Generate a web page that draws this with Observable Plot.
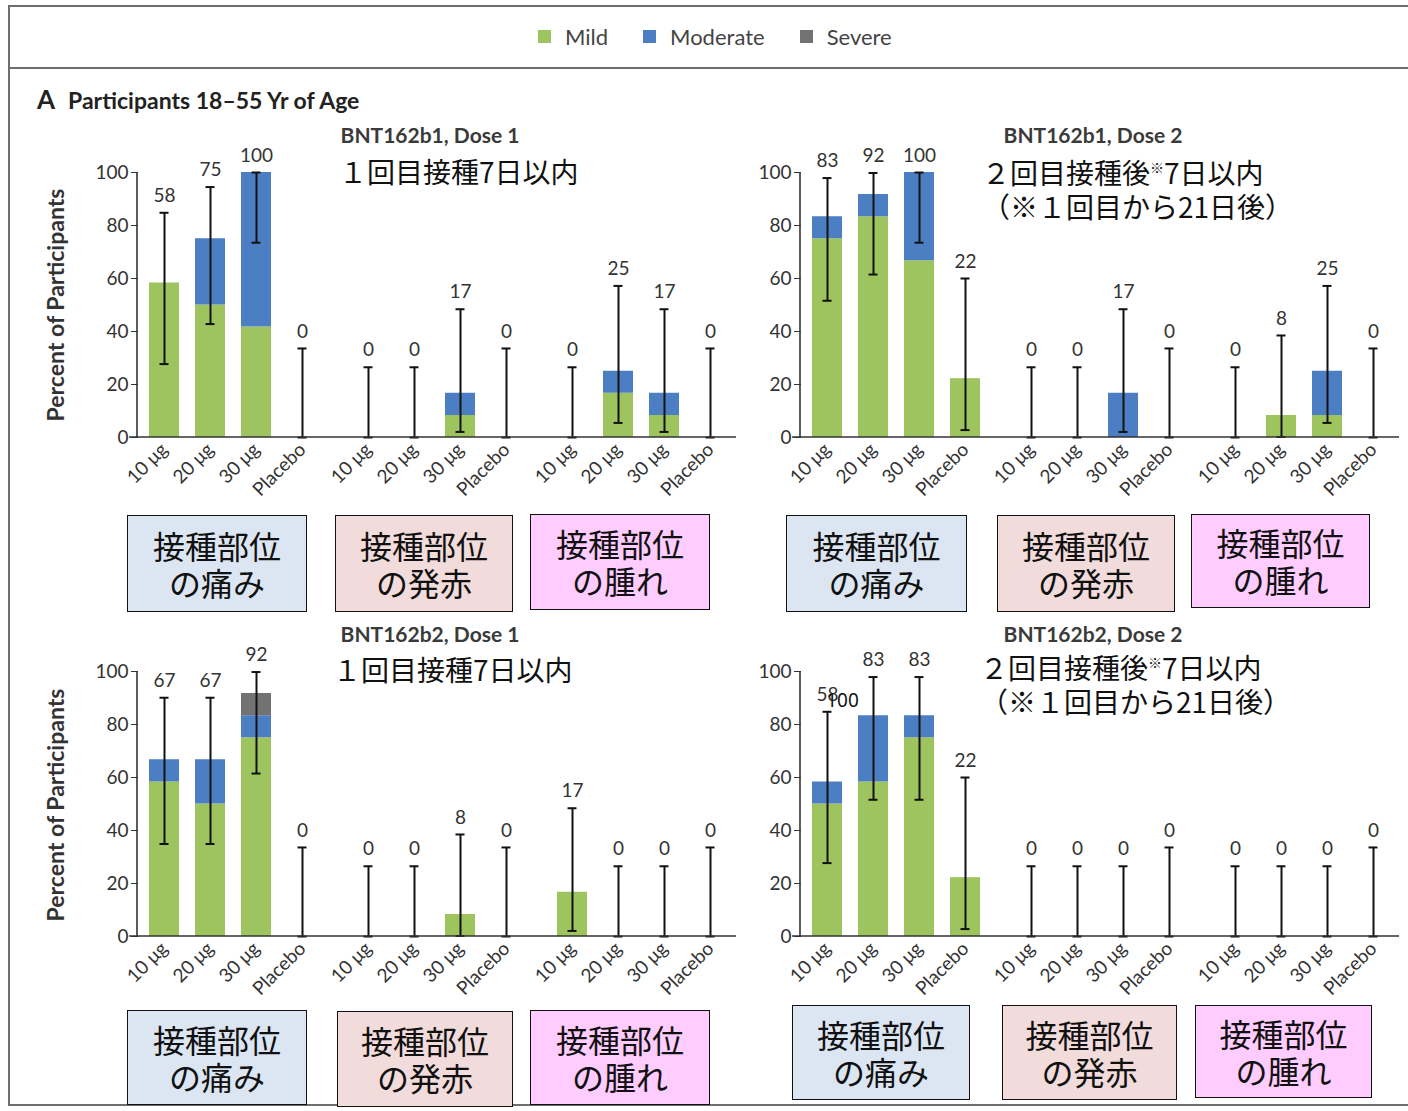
<!DOCTYPE html>
<html><head><meta charset="utf-8">
<script src="https://cdn.jsdelivr.net/npm/d3@7"></script>
<script src="https://cdn.jsdelivr.net/npm/@observablehq/plot@0.6"></script>
<style>
body{margin:0;background:#fff;}
#page{position:relative;width:1408px;height:1111px;overflow:hidden;background:#fff;
  font-family:Lato,"Liberation Sans",sans-serif;color:#333;}
.abs{position:absolute;}
.center{transform:translate(-50%,-50%);white-space:nowrap;}
.title{font-weight:bold;font-size:21px;color:#3a3a3a;}
.note{font-family:"Noto Sans CJK JP",sans-serif;font-size:28px;color:#111;white-space:nowrap;line-height:1;}
.note sup{font-size:14px;vertical-align:11px;line-height:0;}
.box{box-sizing:border-box;border:1.6px solid #111;display:flex;align-items:center;justify-content:center;text-align:center;
  font-family:"Noto Sans CJK JP",sans-serif;font-size:32px;line-height:1.15;color:#111;white-space:pre;}
.ylab{font-weight:bold;font-size:23px;color:#333;transform:translate(-50%,-50%) rotate(-90deg);white-space:nowrap;}
.leg{display:flex;align-items:center;font-size:22px;color:#444;white-space:nowrap;}
.sw{display:inline-block;width:13px;height:13px;margin-right:14px;}
</style></head><body><div id="page"></div>
<script>
// ---------- data ----------
const severities = ["Mild", "Moderate", "Severe"];
const severityColors = ["#9dc45e", "#4c7ec4", "#727272"];
const sites = ["pain", "redness", "swelling"];
const siteLabels = ["接種部位\nの痛み", "接種部位\nの発赤", "接種部位\nの腫れ"];
const siteColors = ["#dce6f2", "#f2dcdb", "#ffccff"];
const doses = ["10 μg", "20 μg", "30 μg", "Placebo"];
const yTicks = [0, 20, 40, 60, 80, 100];
const panelTitles = ["BNT162b1, Dose 1", "BNT162b1, Dose 2", "BNT162b2, Dose 1", "BNT162b2, Dose 2"];
const note1 = ["１回目接種7日以内"];
const note2 = ["２回目接種後<sup>※</sup>7日以内", "（※１回目から21日後）"];

// 12 entries each: pain (10,20,30,Placebo), redness (...), swelling (...)
const b1d1Mild     = [58.3, 50.0, 41.7, 0,   0, 0, 8.3, 0,   0, 16.7, 8.3, 0];
const b1d1Moderate = [0, 25.0, 58.3, 0,      0, 0, 8.4, 0,   0, 8.3, 8.4, 0];
const b1d1Severe   = [0, 0, 0, 0,            0, 0, 0, 0,     0, 0, 0, 0];
const b1d1Label    = [58, 75, 100, 0,        0, 0, 17, 0,    0, 25, 17, 0];
const b1d1Lo       = [27.7, 42.8, 73.5, 0,   0, 0, 2.1, 0,   0, 5.5, 2.1, 0];
const b1d1Hi       = [84.8, 94.5, 100, 33.6, 26.5, 26.5, 48.4, 33.6, 26.5, 57.2, 48.4, 33.6];

const b1d2Mild     = [75.0, 83.3, 66.7, 22.2, 0, 0, 0, 0,    0, 8.3, 8.3, 0];
const b1d2Moderate = [8.3, 8.4, 33.3, 0,      0, 0, 16.7, 0, 0, 0, 16.7, 0];
const b1d2Severe   = [0, 0, 0, 0,             0, 0, 0, 0,    0, 0, 0, 0];
const b1d2Label    = [83, 92, 100, 22,        0, 0, 17, 0,   0, 8, 25, 0];
const b1d2Lo       = [51.6, 61.5, 73.5, 2.8,  0, 0, 2.1, 0,  0, 0.2, 5.5, 0];
const b1d2Hi       = [97.9, 99.8, 100, 60.0,  26.5, 26.5, 48.4, 33.6, 26.5, 38.5, 57.2, 33.6];

const b2d1Mild     = [58.3, 50.0, 75.0, 0,    0, 0, 8.3, 0,  16.7, 0, 0, 0];
const b2d1Moderate = [8.4, 16.7, 8.3, 0,      0, 0, 0, 0,    0, 0, 0, 0];
const b2d1Severe   = [0, 0, 8.4, 0,           0, 0, 0, 0,    0, 0, 0, 0];
const b2d1Label    = [67, 67, 92, 0,          0, 0, 8, 0,    17, 0, 0, 0];
const b2d1Lo       = [34.9, 34.9, 61.5, 0,    0, 0, 0.2, 0,  2.1, 0, 0, 0];
const b2d1Hi       = [90.1, 90.1, 99.8, 33.6, 26.5, 26.5, 38.5, 33.6, 48.4, 26.5, 26.5, 33.6];

const b2d2Mild     = [50.0, 58.3, 75.0, 22.2, 0, 0, 0, 0,    0, 0, 0, 0];
const b2d2Moderate = [8.3, 25.0, 8.3, 0,      0, 0, 0, 0,    0, 0, 0, 0];
const b2d2Severe   = [0, 0, 0, 0,             0, 0, 0, 0,    0, 0, 0, 0];
const b2d2Label    = [58, 83, 83, 22,         0, 0, 0, 0,    0, 0, 0, 0];
const b2d2Lo       = [27.7, 51.6, 51.6, 2.8,  0, 0, 0, 0,    0, 0, 0, 0];
const b2d2Hi       = [84.8, 97.9, 97.9, 60.0, 26.5, 26.5, 26.5, 33.6, 26.5, 26.5, 26.5, 33.6];

// stray overlaid label present in the source image (BNT162b2 Dose 2, pain 10 μg)
const strayNotes = [{site: "pain", dose: "10 μg", y: 89, text: "100"}];

// ---------- build ----------
const page = document.getElementById("page");
function add(html, cls, style) {
  const d = document.createElement("div");
  d.className = cls; d.innerHTML = html; Object.assign(d.style, style); page.appendChild(d); return d;
}
const FONT = 'Lato,"Liberation Sans",sans-serif';

function makePanel(mild, moderate, severe, labels, lo, hi, extra) {
  const rows = [], stats = [];
  for (let i = 0; i < 12; i++) {
    const site = sites[Math.floor(i / 4)], dose = doses[i % 4];
    [mild, moderate, severe].forEach((arr, k) => rows.push({site, dose, severity: severities[k], value: arr[i]}));
    stats.push({site, dose, label: labels[i], lo: lo[i], hi: hi[i]});
  }
  const marks = [
    Plot.barY(rows, {fx: "site", x: "dose", y: "value", fill: "severity", z: "severity"}),
    Plot.ruleX(stats, {fx: "site", x: "dose", y1: "lo", y2: "hi", stroke: "#111", strokeWidth: 2}),
    Plot.tickY(stats, {fx: "site", x: "dose", y: "lo", insetLeft: 10.5, insetRight: 10.5, stroke: "#111", strokeWidth: 2}),
    Plot.tickY(stats, {fx: "site", x: "dose", y: "hi", insetLeft: 10.5, insetRight: 10.5, stroke: "#111", strokeWidth: 2}),
    Plot.text(stats, {fx: "site", x: "dose", y: "hi", text: "label", dy: -17, fontSize: 19, fill: "#333"})
  ];
  if (extra) marks.push(Plot.text(extra, {fx: "site", x: "dose", y: "y", text: "text", dx: 15, fontSize: 19, fill: "#111",
    fontFamily: "Noto Sans, sans-serif"}));
  return {rows, stats, marks};
}

const MR = 5, PW = 599;
function render(p, ml) {
  const svg = Plot.plot({
    width: ml + PW + MR, height: 380,
    marginLeft: ml, marginRight: MR, marginTop: 40, marginBottom: 75,
    style: {background: "transparent", fontFamily: FONT, fontSize: "19px", color: "#333", overflow: "visible"},
    fx: {domain: sites, paddingInner: 0.07, paddingOuter: 0, axis: null, label: null},
    x: {domain: doses, paddingInner: 0.35, paddingOuter: 0.24, tickRotate: -45, tickSize: 0, tickPadding: 9, label: null},
    y: {domain: [0, 100], ticks: yTicks, tickSize: 7, tickPadding: 3, label: null},
    color: {domain: severities, range: severityColors},
    marks: p.marks
  });
  // continuous baseline and y-axis line drawn from the plot's own y scale
  const y = svg.scale("y");
  const g = d3.select(svg).append("g").attr("stroke", "#333").attr("stroke-width", 1.6);
  g.append("line").attr("x1", ml - 8).attr("x2", ml + PW).attr("y1", y.apply(0)).attr("y2", y.apply(0));
  g.append("line").attr("x1", ml).attr("x2", ml).attr("y1", y.apply(0)).attr("y2", y.apply(100));
  return svg;
}

const panels = [
  {p: makePanel(b1d1Mild, b1d1Moderate, b1d1Severe, b1d1Label, b1d1Lo, b1d1Hi), left: 0, top: 132, ml: 137},
  {p: makePanel(b1d2Mild, b1d2Moderate, b1d2Severe, b1d2Label, b1d2Lo, b1d2Hi), left: 680, top: 132, ml: 120},
  {p: makePanel(b2d1Mild, b2d1Moderate, b2d1Severe, b2d1Label, b2d1Lo, b2d1Hi), left: 0, top: 631, ml: 137},
  {p: makePanel(b2d2Mild, b2d2Moderate, b2d2Severe, b2d2Label, b2d2Lo, b2d2Hi, strayNotes), left: 680, top: 631, ml: 120}
];
panels.forEach(({p, left, top, ml}) => {
  const svg = render(p, ml);
  svg.style.position = "absolute"; svg.style.left = left + "px"; svg.style.top = top + "px";
  page.appendChild(svg);
});

// frame and header
add("", "abs", {left: "8px", top: "5px", width: "1410px", height: "1101px", border: "2px solid #6e6e6e", boxSizing: "border-box"});
add("", "abs", {left: "8px", top: "67px", width: "1400px", height: "2px", background: "#6e6e6e"});
add(severities.map((s, i) =>
  `<span style="display:inline-flex;align-items:center;margin-right:${i < 2 ? 35 : 0}px"><span class="sw" style="background:${severityColors[i]}"></span>${s}</span>`).join(""),
  "abs leg", {left: "538px", top: "23px"});
add('<span style="font-size:26px;margin-right:13px">A</span>Participants 18–55 Yr of Age', "abs",
  {left: "37px", top: "83px", fontWeight: "bold", fontSize: "23px", color: "#222"});

// titles and notes
const titlePos = [[430, 134], [1093, 134], [430, 633], [1093, 633]];
panelTitles.forEach((t, i) => add(t, "abs center title", {left: titlePos[i][0] + "px", top: titlePos[i][1] + "px"}));
add(note1[0], "abs note", {left: "339px", top: "157px"});
add(note2[0], "abs note", {left: "982px", top: "158px"});
add(note2[1], "abs note", {left: "982px", top: "192px"});
add(note1[0], "abs note", {left: "333px", top: "655px"});
add(note2[0], "abs note", {left: "980px", top: "653px"});
add(note2[1], "abs note", {left: "980px", top: "687px"});

// y labels
add("Percent of Participants", "abs ylab", {left: "55px", top: "305px"});
add("Percent of Participants", "abs ylab", {left: "55px", top: "805px"});

// site boxes
const boxRows = [
  [[127, 515, 180, 97], [335, 515, 178, 97], [530, 514, 180, 96]],
  [[786, 515, 181, 97], [997, 515, 178, 97], [1191, 514, 179, 94]],
  [[127, 1010, 180, 95], [337, 1011, 176, 96], [530, 1010, 180, 95]],
  [[792, 1005, 178, 95], [1002, 1005, 175, 95], [1195, 1005, 177, 93]]
];
boxRows.forEach(row => row.forEach(([l, t, w, h], k) =>
  add(siteLabels[k], "abs box", {left: l + "px", top: t + "px", width: w + "px", height: h + "px", background: siteColors[k]})));
</script></body></html>
